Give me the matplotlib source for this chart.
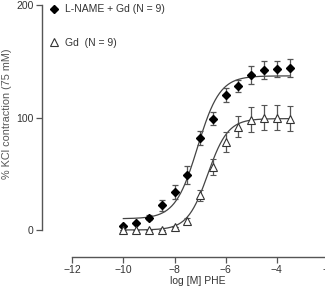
import numpy as np
import matplotlib
matplotlib.use("Agg")
import matplotlib.pyplot as plt
from matplotlib.lines import Line2D

plt.rcParams['font.family'] = ['Liberation Sans', 'DejaVu Sans']

log_phe = [-10, -9.5, -9, -8.5, -8, -7.5, -7, -6.5, -6, -5.5, -5, -4.5, -4, -3.5]
lname_gd = [4, 6, 11, 22, 34, 49, 82, 99, 120, 128, 138, 142, 143, 144]
lname_gd_err = [0, 0, 2, 5, 6, 8, 6, 6, 6, 5, 8, 8, 7, 8]
gd = [0, 0, 0, 0, 3, 8, 31, 56, 78, 92, 98, 100, 100, 99]
gd_err = [0, 0, 0, 0, 0, 3, 5, 7, 9, 9, 11, 11, 11, 11]

# fitted logistic parameters (bottom, top, logEC50, hill)
fit_lname = (10, 137, -7.1, 1.0)
fit_gd = (0, 99, -6.7, 1.1)

labels = ['L-NAME + Gd (N = 9)', 'Gd  (N = 9)']
xticks = [-12, -10, -8, -6, -4, -2]
yticks = [0, 100, 200]

W, H = 325, 290
fig = plt.figure(figsize=(W/100, H/100), dpi=100)
left_px, right_px, top_px, bot_px = 42, 328, 5, 257
ax = fig.add_axes([left_px/W, 1-bot_px/H, (right_px-left_px)/W, (bot_px-top_px)/H])
ax.set_xlim(-13.18, -2)
ax.set_ylim(-24, 200)

gray = '#444444'
def logistic(x, p):
    b, t, ec, h = p
    return b + (t-b)/(1+10**((ec-x)*h))

xs = np.linspace(-10, -3.5, 300)
ax.plot(xs, logistic(xs, fit_lname), color=gray, lw=0.9, zorder=2)
ax.plot(xs, logistic(xs, fit_gd), color=gray, lw=0.9, zorder=2)

dia = dict(marker='D', ms=4.5, mfc='black', mec='black')
tri = dict(marker='^', ms=6, mfc='white', mec='#333333', mew=0.8)
ax.errorbar(log_phe, lname_gd, yerr=lname_gd_err, ls='none', ecolor='#555555',
            elinewidth=0.9, capsize=2.5, capthick=0.9, zorder=3, **dia)
ax.errorbar(log_phe, gd, yerr=gd_err, ls='none', ecolor='#555555',
            elinewidth=0.9, capsize=2.5, capthick=0.9, zorder=3, **tri)

for s in ['top', 'right']:
    ax.spines[s].set_visible(False)
ax.spines['left'].set_bounds(0, 200)
ax.spines['bottom'].set_bounds(-12, -2)
for s in ['left', 'bottom']:
    ax.spines[s].set_color('#555555')
    ax.spines[s].set_linewidth(1.0)
ax.set_xticks(xticks)
ax.set_yticks(yticks)
ax.tick_params(direction='out', length=4, width=0.9, colors='#555555',
               labelsize=7.5, labelcolor='#333333', pad=2)

fig.text(0.022, 1-114/H, '% KCl contraction (75 mM)', rotation=90, fontsize=7.8,
         color='#555555', ha='center', va='center')
fig.text(198/W, 1-281/H, 'log [M] PHE', fontsize=7.5, color='#333333',
         ha='center', va='center')

handles = [Line2D([], [], ls='none', **dia), Line2D([], [], ls='none', **tri)]
leg = ax.legend(handles, labels, loc='upper left', bbox_to_anchor=(39/W, 1+5/H),
                bbox_transform=fig.transFigure, frameon=False, fontsize=7.5,
                labelspacing=2.25, handlelength=1.0, handletextpad=0.6)
for t in leg.get_texts():
    t.set_color('#333333')

fig.savefig('out.png', dpi=100)
